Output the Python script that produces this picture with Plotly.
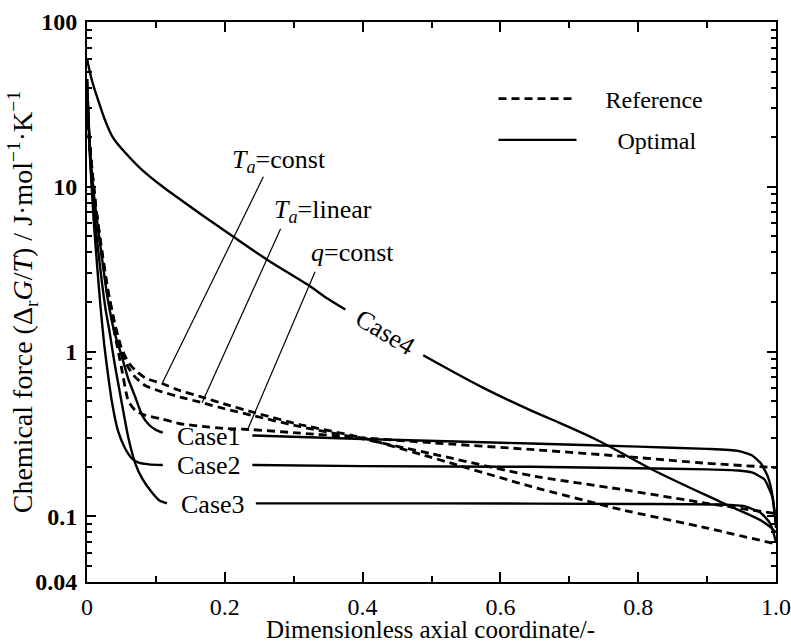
import math
import plotly.graph_objects as go

# ---------------- data ----------------
# Optimal (solid) curves; None marks where a label interrupts the line
x_case1 = [0, 0.004, 0.01, 0.02, 0.03, 0.04, 0.05, 0.06, 0.07, 0.08, 0.09, 0.1, 0.11,
           None, 0.24, 0.4, 0.644, 0.8, 0.9, 0.945, 0.965, 0.978, 0.988, 0.994, 1.0]
y_case1 = [45, 18, 9, 4.2, 2.1, 1.3, 0.95, 0.68, 0.53, 0.41, 0.36, 0.335, 0.322,
           None, 0.31, 0.295, 0.277, 0.265, 0.257, 0.25, 0.235, 0.21, 0.175, 0.14, 0.09]

x_case2 = [0, 0.004, 0.01, 0.015, 0.02, 0.025, 0.03, 0.036, 0.045, 0.055, 0.065, 0.075, 0.09, 0.11,
           None, 0.24, 0.4, 0.644, 0.8, 0.9, 0.945, 0.965, 0.983, 0.995, 1.0]
y_case2 = [45, 16, 6, 3.2, 1.8, 1.1, 0.75, 0.5, 0.33, 0.26, 0.225, 0.212, 0.207, 0.205,
           None, 0.205, 0.202, 0.2, 0.196, 0.193, 0.19, 0.185, 0.168, 0.13, 0.085]

x_case3 = [0, 0.005, 0.012, 0.02, 0.027, 0.033, 0.04, 0.05, 0.06, 0.07, 0.08, 0.094, 0.105, 0.116,
           None, 0.245, 0.5, 0.8, 0.92, 0.955, 0.978, 0.992, 1.0]
y_case3 = [45, 14, 6, 3, 1.8, 1.3, 0.85, 0.5, 0.3, 0.21, 0.17, 0.14, 0.125, 0.12,
           None, 0.12, 0.12, 0.119, 0.118, 0.115, 0.105, 0.09, 0.07]

x_case4 = [0, 0.007, 0.016, 0.026, 0.038, 0.055, 0.077, 0.11, 0.135, 0.17, 0.212,
           0.262, 0.32, 0.349, 0.375,
           None, 0.488, 0.576, 0.644, 0.673, 0.741, 0.823, 0.924, 0.983, 1.0]
y_case4 = [60, 44.5, 33.7, 25.5, 19.8, 16.2, 13, 10, 8.4, 6.6, 5.0,
           3.6, 2.55, 2.1, 1.8,
           None, 0.95, 0.6, 0.44, 0.39, 0.29, 0.19, 0.12, 0.092, 0.08]

# Reference (dashed) curves
x_ref = [0, 0.005, 0.012, 0.02, 0.03, 0.04, 0.05, 0.06, 0.07, 0.085, 0.109, 0.135, 0.167,
         0.2, 0.24, 0.31, 0.4, 0.5, 0.644, 0.775, 0.9, 1.0]
y_ta_const = [30, 16, 8, 4.5, 2.4, 1.5, 1.05, 0.86, 0.77, 0.69, 0.64, 0.58, 0.53,
              0.48, 0.43, 0.36, 0.3, 0.228, 0.152, 0.11, 0.085, 0.068]
y_ta_linear = [30, 16, 8, 4.5, 2.4, 1.45, 1.0, 0.8, 0.7, 0.62, 0.57, 0.53, 0.49,
               0.45, 0.41, 0.35, 0.295, 0.24, 0.177, 0.146, 0.12, 0.104]
y_q_const = [30, 16, 8, 4.3, 2.2, 1.3, 0.8, 0.5, 0.44, 0.41, 0.39, 0.365, 0.352,
             0.342, 0.336, 0.32, 0.3, 0.28, 0.255, 0.232, 0.21, 0.198]

# Leader lines: [x_text_end, x_curve_end], [y_text_end, y_curve_end]
lead_ta_const = ([0.256, 0.109], [11.5, 0.64])
lead_ta_linear = ([0.281, 0.167], [5.56, 0.49])
lead_q_const = ([0.331, 0.233], [3.05, 0.336])

x_tickvals = [0, 0.2, 0.4, 0.6, 0.8, 1.0]
x_ticktext = ["0", "0.2", "0.4", "0.6", "0.8", "1.0"]
x_minor = [0.1, 0.3, 0.5, 0.7, 0.9]
y_tickvals = [0.04, 0.1, 1, 10, 100]
y_ticktext = ["0.04", "0.1", "1", "10", "100"]
y_minor = [0.05, 0.06, 0.07, 0.08, 0.09, 0.2, 0.3, 0.4, 0.5, 0.6, 0.7, 0.8, 0.9,
           2, 3, 4, 5, 6, 7, 8, 9, 20, 30, 40, 50, 60, 70, 80, 90]

# ---------------- figure ----------------
FONT = "Liberation Serif"
solid = dict(color="black", width=2.4, shape="spline", smoothing=0.5)
solid4 = dict(color="black", width=2.4, shape="spline", smoothing=1.0)
dashed = dict(color="black", width=2.8, dash="8px,5px", shape="spline", smoothing=0.5)
thin = dict(color="black", width=1.2)

fig = go.Figure()

fig.add_trace(go.Scatter(x=x_ref, y=y_ta_const, mode="lines", line=dashed,
                         name="\u2003Reference", showlegend=True, legendgroup="a", legendrank=1))
fig.add_trace(go.Scatter(x=x_ref, y=y_ta_linear, mode="lines", line=dashed, showlegend=False))
fig.add_trace(go.Scatter(x=x_ref, y=y_q_const, mode="lines", line=dashed, showlegend=False))

fig.add_trace(go.Scatter(x=x_case1, y=y_case1, mode="lines", line=solid, connectgaps=False,
                         name="\u2003\u2002Optimal", showlegend=True, legendgroup="b", legendrank=2))
fig.add_trace(go.Scatter(x=x_case2, y=y_case2, mode="lines", line=solid, connectgaps=False, showlegend=False))
fig.add_trace(go.Scatter(x=x_case3, y=y_case3, mode="lines", line=solid, connectgaps=False, showlegend=False))
fig.add_trace(go.Scatter(x=x_case4, y=y_case4, mode="lines", line=solid4, connectgaps=False, showlegend=False))

for lx, ly in (lead_ta_const, lead_ta_linear, lead_q_const):
    fig.add_trace(go.Scatter(x=lx, y=ly, mode="lines", line=thin, showlegend=False, hoverinfo="skip"))

lab_font = dict(family=FONT, size=26, color="black")
annots = [
    dict(text="<i>T</i><sub><i>a</i></sub>=const", x=0.279, y=math.log10(14.4)),
    dict(text="<i>T</i><sub><i>a</i></sub>=linear", x=0.343, y=math.log10(7.16)),
    dict(text="<i>q</i>=const", x=0.385, y=math.log10(3.98)),
    dict(text="Case1", x=0.177, y=math.log10(0.305)),
    dict(text="Case2", x=0.177, y=math.log10(0.204)),
    dict(text="Case3", x=0.183, y=math.log10(0.118)),
    dict(text="Case4", x=0.433, y=math.log10(1.3), textangle=31),
]
for a in annots:
    fig.add_annotation(xref="x", yref="y", showarrow=False, font=lab_font,
                       xanchor="center", yanchor="middle", **a)

fig.add_annotation(xref="paper", yref="paper", x=-0.094, y=0.5, showarrow=False,
                   textangle=-90, xanchor="center", yanchor="middle",
                   text="Chemical force (Δ<sub>r</sub><i>G</i>/<i>T</i>) / J·mol<sup>−1</sup>·K<sup>−1</sup>",
                   font=dict(family=FONT, size=28, color="black"))
fig.add_annotation(xref="paper", yref="paper", x=0.498, y=-0.084, showarrow=False,
                   xanchor="center", yanchor="middle",
                   text="Dimensionless axial coordinate/-",
                   font=dict(family=FONT, size=25, color="black"))

fig.update_layout(
    template="none",
    width=791, height=643,
    margin=dict(l=87, r=15, t=22, b=61, autoexpand=False),
    paper_bgcolor="white", plot_bgcolor="white",
    font=dict(family=FONT, color="black"),
    showlegend=True,
    legend=dict(x=0.59, y=0.9026, xanchor="left", yanchor="top",
                bgcolor="rgba(0,0,0,0)", font=dict(family=FONT, size=24, color="black"),
                itemwidth=78, tracegroupgap=7, traceorder="grouped"),
    xaxis=dict(range=[0, 1], showgrid=False, zeroline=False, automargin=False,
               showline=True, linecolor="black", linewidth=2, mirror="ticks",
               ticks="inside", ticklen=10, tickwidth=1.5, tickcolor="black",
               tickvals=x_tickvals, ticktext=x_ticktext, ticklabelstandoff=2,
               ticklabeloverflow="allow",
               tickfont=dict(family=FONT, size=24, color="black"),
               minor=dict(ticks="inside", ticklen=6, tickwidth=1.5, tickcolor="black",
                          tickmode="array", tickvals=x_minor, showgrid=False)),
    yaxis=dict(type="log", range=[math.log10(0.04), 2], showgrid=False, zeroline=False,
               automargin=False,
               showline=True, linecolor="black", linewidth=2, mirror="ticks",
               ticks="inside", ticklen=9, tickwidth=1.5, tickcolor="black",
               tickvals=y_tickvals, ticktext=y_ticktext, ticklabelstandoff=3,
               ticklabeloverflow="allow",
               tickfont=dict(family=FONT, size=24, color="black", weight="bold"),
               minor=dict(ticks="inside", ticklen=5, tickwidth=1.5, tickcolor="black",
                          tickmode="array", tickvals=y_minor, showgrid=False)),
)

fig.write_html("out.html", config={"displayModeBar": False},
               post_script="document.body.style.margin='0';document.body.style.padding='0';")
